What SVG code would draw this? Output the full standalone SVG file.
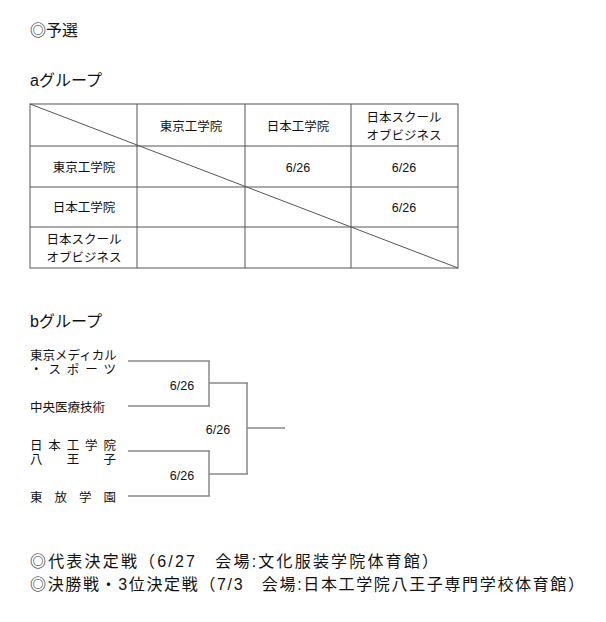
<svg xmlns="http://www.w3.org/2000/svg" width="606" height="622" viewBox="0 0 606 622">
<style>
text{font-family:"Liberation Sans","Noto Sans CJK JP",sans-serif;fill:#111}
.h{font-size:16px}.t{font-size:12.5px}.m{text-anchor:middle}
.g line{stroke:#555;stroke-width:1}
.b line{stroke:#888;stroke-width:1.5}
</style>
<rect width="606" height="622" fill="#fff"/>
<text class="h" x="30" y="36">◎予選</text>
<text class="h" x="30" y="86">aグループ</text>
<g class="g" id="table">
<rect x="30" y="104" width="428" height="164" fill="none" stroke="#555"/>
<line x1="137" y1="104" x2="137" y2="268"/><line x1="245" y1="104" x2="245" y2="268"/><line x1="351" y1="104" x2="351" y2="268"/>
<line x1="30" y1="146" x2="458" y2="146"/><line x1="30" y1="187" x2="458" y2="187"/><line x1="30" y1="227" x2="458" y2="227"/>
<line x1="30" y1="104" x2="458" y2="268"/>
</g>
<g id="table-text" class="t">
<text class="m" x="191" y="131">東京工学院</text>
<text class="m" x="298" y="131">日本工学院</text>
<text class="m" x="404" y="122">日本スクール</text>
<text class="m" x="404" y="140">オブビジネス</text>
<text class="m" x="84" y="172">東京工学院</text>
<text class="m" x="84" y="212">日本工学院</text>
<text class="m" x="84" y="244">日本スクール</text>
<text class="m" x="84" y="262">オブビジネス</text>
<text class="m" x="298" y="172">6/26</text>
<text class="m" x="404" y="172">6/26</text>
<text class="m" x="404" y="212">6/26</text>
</g>
<text class="h" x="30" y="327">bグループ</text>
<g id="teams" class="t">
<text x="30" y="360">東京メディカル</text>
<text x="30" y="374" textLength="86">・スポーツ</text>
<text x="30" y="412">中央医療技術</text>
<text x="30" y="450" textLength="86">日本工学院</text>
<text x="30" y="464" textLength="86">八　王　子</text>
<text x="30" y="502" textLength="86">東放学園</text>
</g>
<g class="b" id="connectors">
<line x1="128" y1="361" x2="210" y2="361"/><line x1="128" y1="406" x2="210" y2="406"/><line x1="209" y1="361" x2="209" y2="406"/>
<line x1="128" y1="451" x2="210" y2="451"/><line x1="128" y1="496" x2="210" y2="496"/><line x1="209" y1="451" x2="209" y2="496"/>
<line x1="209" y1="383" x2="248" y2="383"/><line x1="209" y1="474" x2="248" y2="474"/><line x1="247" y1="383" x2="247" y2="474"/>
<line x1="247" y1="428" x2="285" y2="428"/>
</g>
<g class="t">
<text class="m" x="182" y="390">6/26</text>
<text class="m" x="218" y="434">6/26</text>
<text class="m" x="182" y="480">6/26</text>
</g>
<text class="h" x="30" y="567" textLength="408">◎代表決定戦（6/27　会場:文化服装学院体育館）</text>
<text class="h" x="30" y="590" textLength="554">◎決勝戦・3位決定戦（7/3　会場:日本工学院八王子専門学校体育館）</text>
</svg>
